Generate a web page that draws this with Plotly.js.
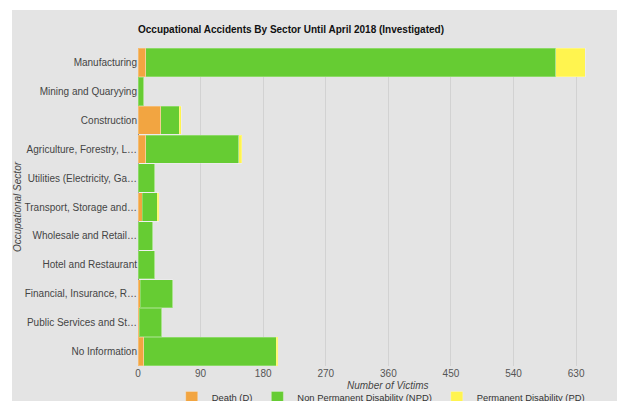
<!DOCTYPE html>
<html>
<head>
<meta charset="utf-8">
<script src="https://cdn.plot.ly/plotly-3.0.1.min.js"></script>
<style>
html,body{margin:0;padding:0;background:#ffffff;width:617px;height:401px;overflow:hidden;}
#chart{position:absolute;left:12px;top:10px;width:605px;height:391px;}
</style>
</head>
<body>
<div id="chart"></div>
<script>
var categories = ["Manufacturing", "Mining and Quaryying", "Construction", "Agriculture, Forestry, L\u2026",
  "Utilities (Electricity, Ga\u2026", "Transport, Storage and\u2026", "Wholesale and Retail\u2026",
  "Hotel and Restaurant", "Financial, Insurance, R\u2026", "Public Services and St\u2026", "No Information"];
var death = [11, 0, 33, 11, 0, 6, 0, 0, 3, 2, 8];
var npd = [590, 8, 26, 134, 24, 22, 21, 24, 47, 32, 191];
var pdis = [42, 0, 3, 4, 0, 2, 0, 0, 0, 0, 2];
var xTicks = [0, 90, 180, 270, 360, 450, 540, 630];
var xTitle = 'Number of Victims';

var line = {color: 'rgba(255,255,255,0.25)', width: 1};
var traces = [
  {type: 'bar', orientation: 'h', name: 'Death (D)', y: categories, x: death, marker: {color: '#f2a541', line: line}},
  {type: 'bar', orientation: 'h', name: 'Non Permanent Disability (NPD)', y: categories, x: npd, marker: {color: '#66cc33', line: line}},
  {type: 'bar', orientation: 'h', name: 'Permanent Disability (PD)', y: categories, x: pdis, marker: {color: '#fff44f', line: line}}
];

var layout = {
  width: 605, height: 391,
  paper_bgcolor: '#e4e4e4', plot_bgcolor: '#e4e4e4',
  font: {family: 'Liberation Sans, Arial, sans-serif', size: 10, color: '#444'},
  barmode: 'stack', bargap: 0.02,
  margin: {l: 126, r: 20, t: 38, b: 35},
  title: {text: '<b>Occupational Accidents By Sector Until April 2018 (Investigated)</b>',
    font: {size: 10, color: '#111'},
    x: 0, xanchor: 'left', xref: 'paper',
    y: 0.951, yanchor: 'middle', yref: 'container'},
  xaxis: {range: [0, 660], tickvals: xTicks, ticktext: xTicks.map(String),
    showgrid: true, gridcolor: '#d2d2d2', zeroline: true, zerolinecolor: '#666', zerolinewidth: 1,
    tickfont: {size: 10, color: '#555'}, ticklen: 0},
  yaxis: {autorange: 'reversed', showgrid: false, zeroline: false, ticks: '', ticklen: 0,
    tickfont: {size: 10, color: '#444'},
    title: {text: '<i>Occupational Sector</i>', font: {size: 10, color: '#444'}}},
  annotations: [{text: '<i>' + xTitle + '</i>', xref: 'paper', yref: 'paper', x: 0.545, y: -0.06,
    xanchor: 'center', yanchor: 'middle', showarrow: false, font: {size: 10, color: '#444'}}],
  showlegend: true,
  legend: {orientation: 'h', traceorder: 'normal', xref: 'container', yref: 'container', x: 0.264, xanchor: 'left',
    y: 0.046, yanchor: 'top', font: {size: 9.4, color: '#333'}, bgcolor: 'rgba(0,0,0,0)'}
};

Plotly.newPlot('chart', traces, layout, {displayModeBar: false, staticPlot: true});
</script>
</body>
</html>
